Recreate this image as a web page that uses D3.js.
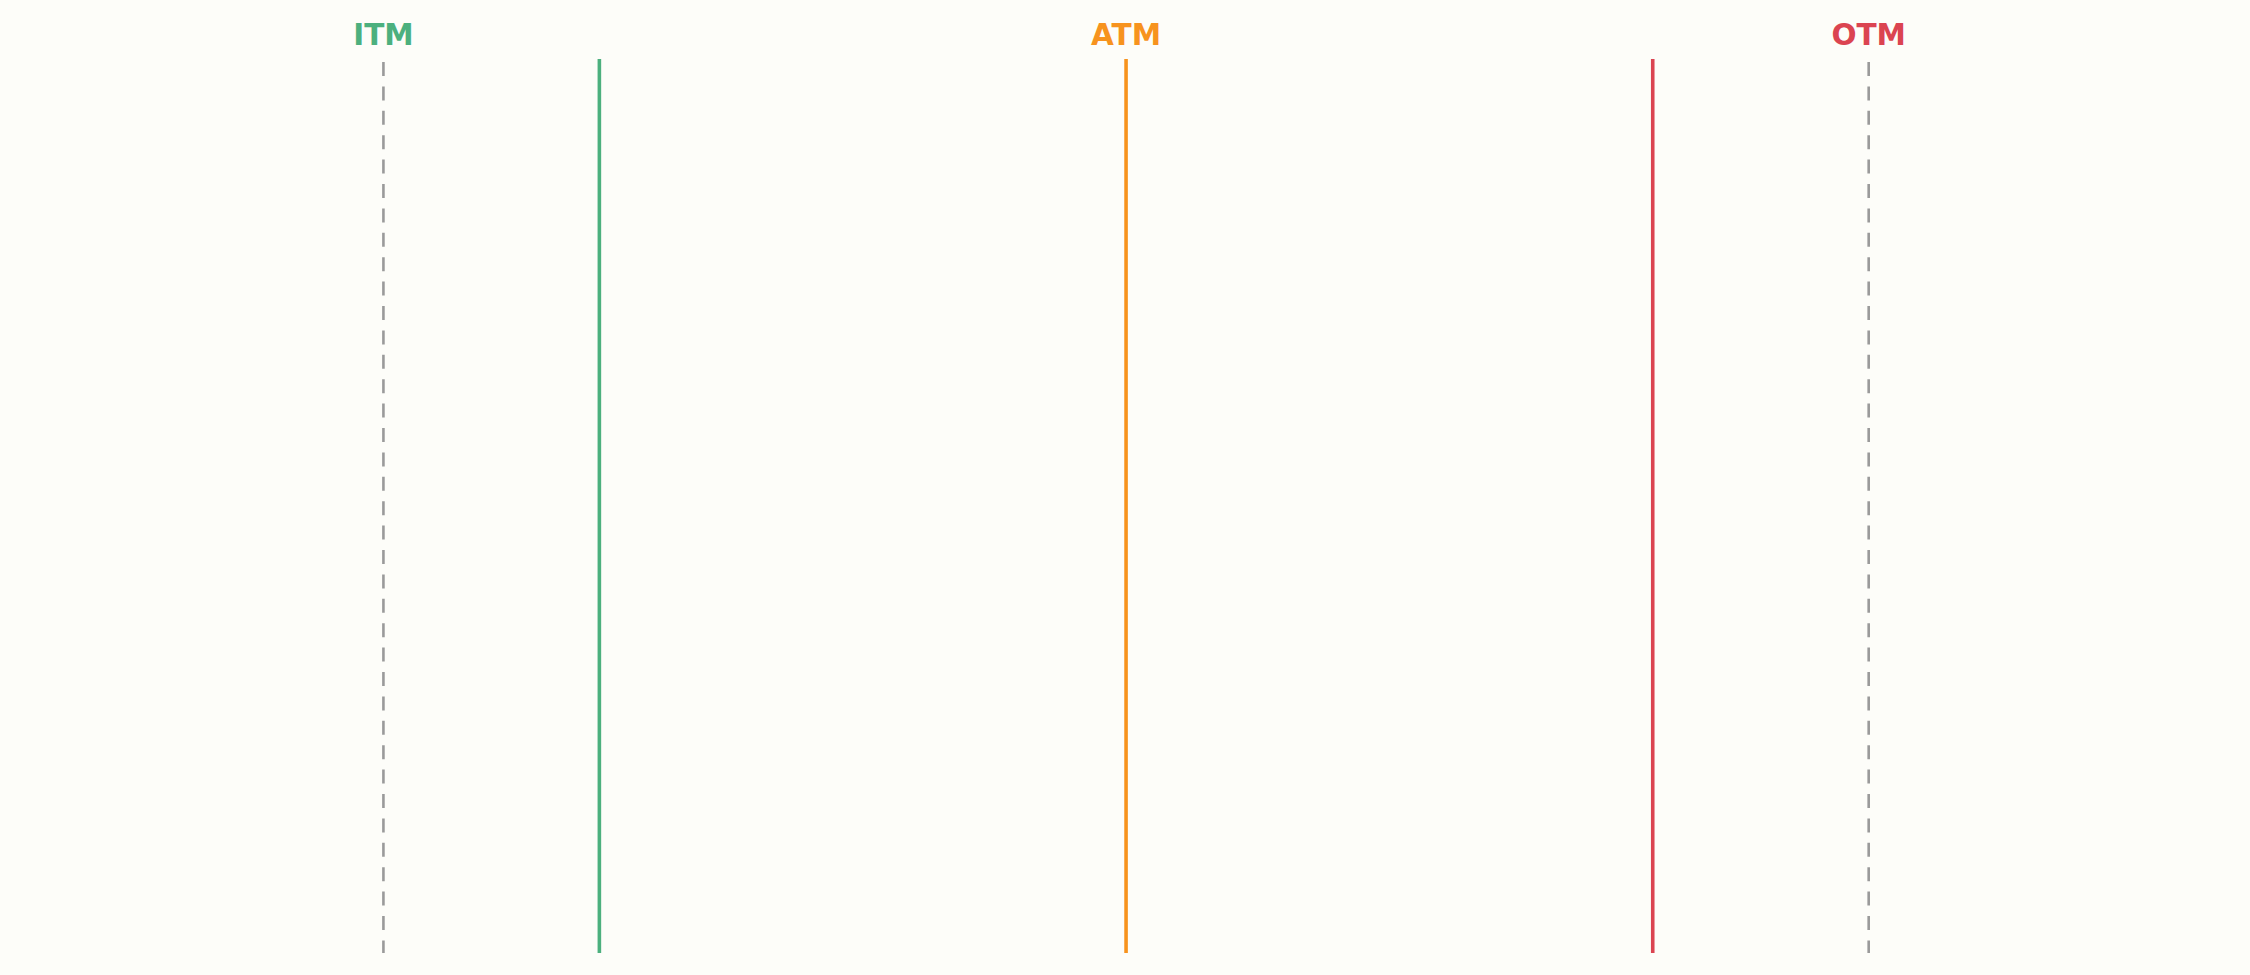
<!DOCTYPE html>
<html>
<head>
<meta charset="utf-8">
<script src="https://cdn.jsdelivr.net/npm/d3@7"></script>
<style>
  html, body { margin: 0; padding: 0; background: #fdfdf9; }
  svg { display: block; }
</style>
</head>
<body>
<svg id="chart" width="2250" height="975"></svg>
<script>
// Strike levels (moneyness relative to spot = 100)
const zoneLabels = ["ITM", "ATM", "OTM"];
const zoneLevels = [92.95, 100, 107.05];
const strikeLevels = [95, 100, 105];
const strikeNames = ["ITM strike", "ATM strike", "OTM strike"];
const boundaryLevels = [92.95, 107.05];

const colors = { ITM: "#4cb07e", ATM: "#f7931e", OTM: "#db4451" };
const strikeColors = ["#4cb07e", "#f7931e", "#db4451"];

const W = 2250, H = 975;
const svg = d3.select("#chart");
svg.append("rect").attr("width", W).attr("height", H).attr("fill", "#fdfdf9");

const x = d3.scaleLinear().domain([89.31, 110.67]).range([0, W]);
const y = d3.scaleLinear().domain([0, 1]).range([953, 59]);

// dashed boundary lines (drawn from top so the pattern starts at the top)
svg.selectAll("line.boundary")
  .data(boundaryLevels)
  .join("line")
  .attr("class", "boundary")
  .attr("x1", d => x(d)).attr("x2", d => x(d))
  .attr("y1", y(1) + 3).attr("y2", y(0))
  .attr("stroke", "#9a9a9a")
  .attr("stroke-width", 2.6)
  .attr("stroke-dasharray", "14,10.4");

// solid strike lines
svg.selectAll("line.strike")
  .data(strikeLevels)
  .join("line")
  .attr("class", "strike")
  .attr("x1", d => x(d)).attr("x2", d => x(d))
  .attr("y1", y(0)).attr("y2", y(1))
  .attr("stroke", (d, i) => strikeColors[i])
  .attr("stroke-width", 3.6);

// zone labels
svg.selectAll("text.zone")
  .data(zoneLabels)
  .join("text")
  .attr("class", "zone")
  .attr("x", (d, i) => x(zoneLevels[i]))
  .attr("y", 45)
  .attr("text-anchor", "middle")
  .attr("font-family", "DejaVu Sans, sans-serif")
  .attr("font-weight", "bold")
  .attr("font-size", 29.5)
  .attr("fill", d => colors[d])
  .text(d => d);
</script>
</body>
</html>
